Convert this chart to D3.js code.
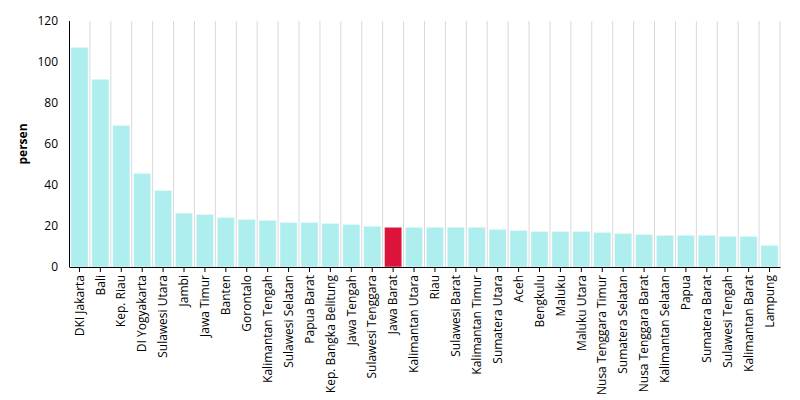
<!DOCTYPE html>
<html>
<head>
<meta charset="utf-8">
<script src="https://cdn.jsdelivr.net/npm/d3@7"></script>
<style>
  body { margin: 0; background: #fff; }
  svg { font-family: 'Open Sans', sans-serif; }
  .axis text { font-family: 'Open Sans', sans-serif; font-size: 12px; fill: #000; }
  .axis path, .axis line { stroke: #000; }
  .grid line { stroke: #d9d9d9; }
  .grid path { display: none; }
</style>
</head>
<body>
<svg id="chart" width="800" height="400"></svg>
<script>
const provinces = [
  'DKI Jakarta', 'Bali', 'Kep. Riau', 'DI Yogyakarta', 'Sulawesi Utara', 'Jambi',
  'Jawa Timur', 'Banten', 'Gorontalo', 'Kalimantan Tengah', 'Sulawesi Selatan',
  'Papua Barat', 'Kep. Bangka Belitung', 'Jawa Tengah', 'Sulawesi Tenggara',
  'Jawa Barat', 'Kalimantan Utara', 'Riau', 'Sulawesi Barat', 'Kalimantan Timur',
  'Sumatera Utara', 'Aceh', 'Bengkulu', 'Maluku', 'Maluku Utara',
  'Nusa Tenggara Timur', 'Sumatera Selatan', 'Nusa Tenggara Barat',
  'Kalimantan Selatan', 'Papua', 'Sumatera Barat', 'Sulawesi Tengah',
  'Kalimantan Barat', 'Lampung'
];
const persen = [
  107.2, 91.6, 69.1, 45.7, 37.4, 26.3,
  25.7, 24.2, 23.3, 22.8, 21.8,
  21.8, 21.3, 20.8, 19.9,
  19.4, 19.4, 19.4, 19.4, 19.4,
  18.4, 17.9, 17.4, 17.4, 17.4,
  16.9, 16.4, 15.9,
  15.5, 15.5, 15.5, 15.0,
  15.0, 10.6
];
const highlight = 'Jawa Barat';
const yTicks = [0, 20, 40, 60, 80, 100, 120];

const data = provinces.map((p, i) => ({ name: p, value: persen[i] }));

const svg = d3.select('#chart');
const margin = { top: 21, right: 20, bottom: 133, left: 69 };
const width = 800 - margin.left - margin.right;
const height = 400 - margin.top - margin.bottom;

const g = svg.append('g').attr('transform', `translate(${margin.left},${margin.top})`);

const x = d3.scaleBand().domain(provinces).range([0, width]).paddingInner(0.17).paddingOuter(0.085);
const y = d3.scaleLinear().domain([0, 120]).range([height, 0]);

// vertical grid at band boundaries
const step = x.step();
g.append('g')
  .attr('class', 'grid')
  .selectAll('line')
  .data(provinces)
  .enter()
  .append('line')
  .attr('x1', (d, i) => (i + 1) * step)
  .attr('x2', (d, i) => (i + 1) * step)
  .attr('y1', 0)
  .attr('y2', height);

g.selectAll('.bar')
  .data(data)
  .enter()
  .append('rect')
  .attr('class', 'bar')
  .attr('x', d => x(d.name))
  .attr('y', d => y(d.value))
  .attr('width', x.bandwidth())
  .attr('height', d => height - y(d.value))
  .attr('fill', d => d.name === highlight ? '#dc143c' : '#afeeee')
  .attr('stroke', 'rgba(255,255,255,0.5)')
  .attr('stroke-width', 1);

// y axis
const yAxis = g.append('g')
  .attr('class', 'axis')
  .call(d3.axisLeft(y).tickValues(yTicks).tickSize(0).tickPadding(11));
yAxis.select('.domain').attr('d', `M0.5,0V${height}`);

// x axis
const xAxis = g.append('g')
  .attr('class', 'axis')
  .attr('transform', `translate(0,${height})`)
  .call(d3.axisBottom(x).tickSize(5).tickSizeOuter(0));
xAxis.selectAll('text')
  .attr('transform', 'rotate(-90)')
  .attr('x', -8)
  .attr('y', 0)
  .attr('dy', '0.35em')
  .style('text-anchor', 'end');

svg.append('text')
  .attr('transform', `translate(27,${margin.top + height / 2}) rotate(-90)`)
  .attr('text-anchor', 'middle')
  .attr('font-size', '12px')
  .attr('font-weight', 'bold')
  .text('persen');
</script>
</body>
</html>
